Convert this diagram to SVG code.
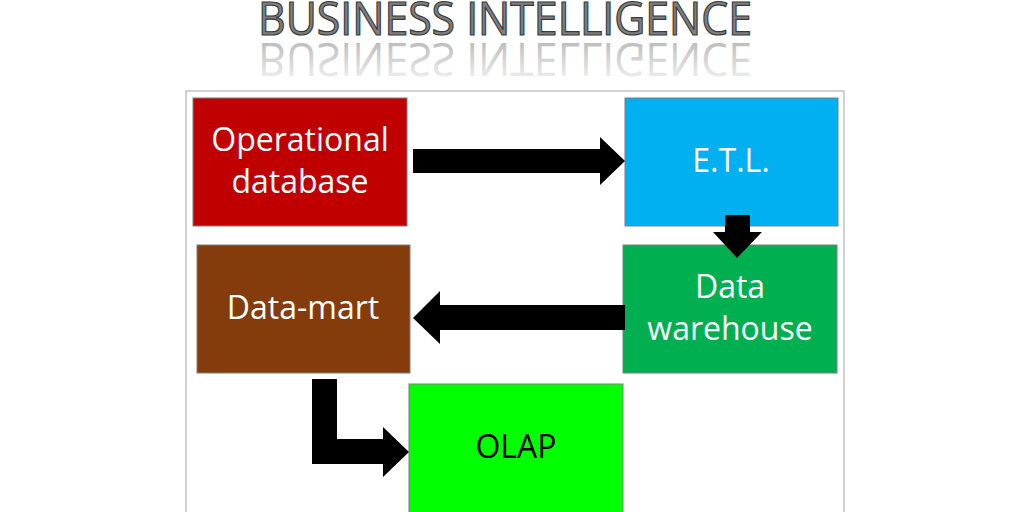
<svg xmlns="http://www.w3.org/2000/svg" width="1024" height="512" viewBox="0 0 1024 512">
<style>
.t{font-family:"Open Sans","Liberation Sans",sans-serif;font-size:32px;fill:#fff;text-anchor:middle}
.box{stroke:#7f7f7f;stroke-width:1}
.title{font-family:"Open Sans","Liberation Sans",sans-serif;font-size:45px;text-anchor:middle}
</style>
<defs>
<linearGradient id="fade" x1="0" y1="0" x2="0" y2="1">
<stop offset="0" stop-color="#fff"/><stop offset="1" stop-color="#999"/>
</linearGradient>
</defs>
<rect width="1024" height="512" fill="#fff"/>
<text class="title" x="505" y="35" fill="#7f7f7f" stroke="#3a3a3a" stroke-width="1.2" textLength="494" lengthAdjust="spacingAndGlyphs">BUSINESS INTELLIGENCE</text>
<g transform="translate(0,78) scale(1,-1)">
<text class="title" x="505" y="35" fill="url(#fade)" stroke="none" opacity="0.8" textLength="494" lengthAdjust="spacingAndGlyphs">BUSINESS INTELLIGENCE</text>
</g>
<rect x="186" y="91" width="658" height="430" fill="none" stroke="#a6a6a6" stroke-width="1"/>
<g id="operational"><rect class="box" x="193" y="98" width="214" height="128" fill="#c00000"/><text class="t" x="300" y="151">Operational</text><text class="t" x="300" y="193">database</text></g>
<g id="etl"><rect class="box" x="625" y="98" width="213" height="128" fill="#00b0f0"/><text class="t" x="731" y="172">E.T.L.</text></g>
<g id="warehouse"><rect class="box" x="623" y="245" width="214" height="128" fill="#00b050"/><text class="t" x="730" y="298">Data</text><text class="t" x="730" y="340">warehouse</text></g>
<g id="datamart"><rect class="box" x="197" y="245" width="213" height="128" fill="#843c0c"/><text class="t" x="303" y="319">Data-mart</text></g>
<g id="olap"><rect class="box" x="409" y="384" width="214" height="140" fill="#00ff00"/><text class="t" x="516" y="458" style="fill:#000">OLAP</text></g>
<g id="connectors" fill="#000">
<polygon points="413,149 600,149 600,137 625,161 600,185 600,173 413,173"/>
<polygon points="725,215 750,215 750,232 762,232 737,258 713,232 725,232"/>
<polygon points="625,305 440,305 440,291 413,318 440,344 440,330 625,330"/>
<polygon points="312,379 337,379 337,439 383,439 383,427 409,452 383,477 383,464 312,464"/>
</g>
</svg>
